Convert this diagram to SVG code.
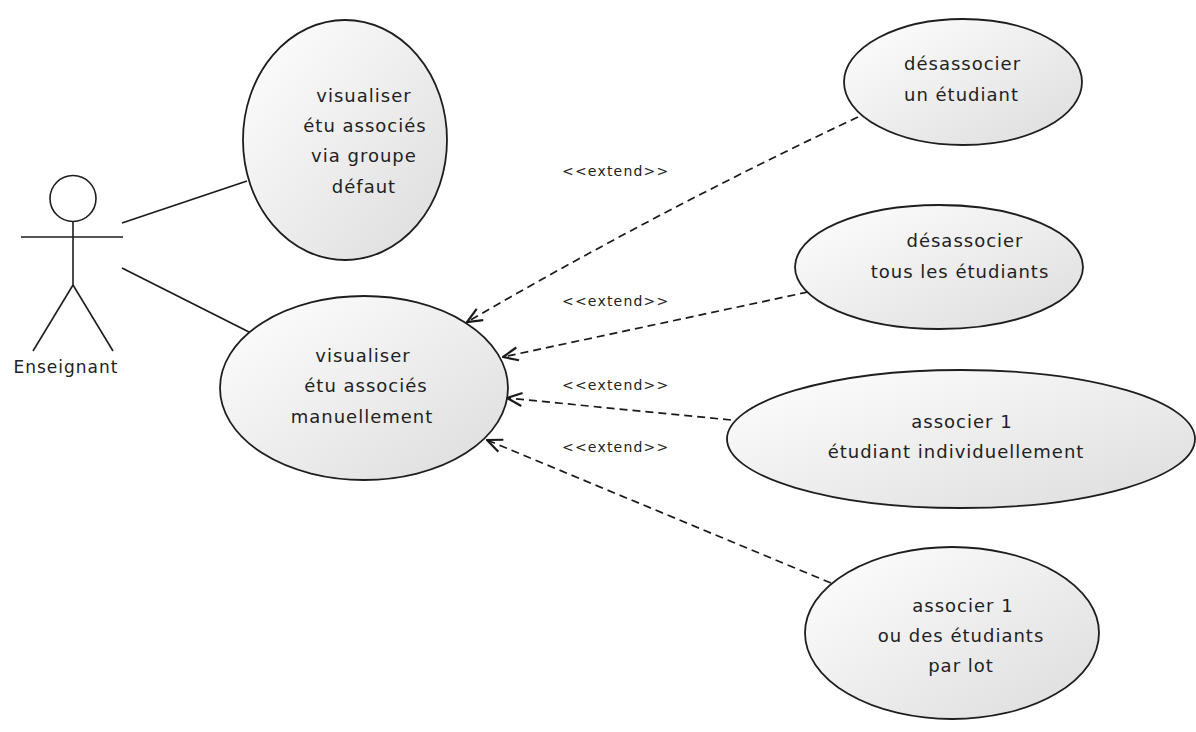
<svg xmlns="http://www.w3.org/2000/svg" width="1196" height="732" viewBox="0 0 1196 732">
  <defs>
    <linearGradient id="ucFill" x1="0" y1="0" x2="1" y2="1">
      <stop offset="0" stop-color="#ffffff"/>
      <stop offset="1" stop-color="#dcdcdc"/>
    </linearGradient>
    <marker id="openArrow" markerUnits="userSpaceOnUse" viewBox="0 0 17 16" markerWidth="17" markerHeight="16" refX="16" refY="8" orient="auto">
      <path d="M1,1.5 L16,8 L1,14.5" fill="none" stroke="#1a1a1a" stroke-width="2.2" stroke-linejoin="miter"/>
    </marker>
    <style>
      .uc { fill: url(#ucFill); stroke: #1e1e1e; stroke-width: 1.8; }
      .lbl { font-family: "DejaVu Sans", Verdana, sans-serif; font-size: 18px; letter-spacing: 1px; fill: #222; text-anchor: middle; }
      .lbl-left { text-anchor: start; }
      .actor { fill: none; stroke: #1e1e1e; stroke-width: 1.6; }
      .assoc { stroke: #1a1a1a; stroke-width: 1.7; fill: none; }
      .ext { stroke: #1a1a1a; stroke-width: 1.7; fill: none; stroke-dasharray: 8 5; marker-end: url(#openArrow); }
      .stereo { font-family: "DejaVu Sans", Verdana, sans-serif; font-size: 14px; letter-spacing: 1.2px; fill: #222; }
    </style>
  </defs>

  <!-- actor -->
  <g id="actor-enseignant">
    <circle class="actor" cx="73" cy="198.5" r="23"/>
    <line class="actor" x1="73" y1="221.5" x2="73" y2="285"/>
    <line class="actor" x1="21" y1="237" x2="123" y2="237"/>
    <line class="actor" x1="73" y1="285" x2="33" y2="351"/>
    <line class="actor" x1="73" y1="285" x2="113" y2="351"/>
    <text class="lbl" x="66" y="373" style="font-size:17px">Enseignant</text>
  </g>

  <!-- use cases -->
  <g id="uc-groupe-defaut">
    <ellipse class="uc" cx="345" cy="140" rx="102" ry="120"/>
    <text class="lbl" x="364" y="102">visualiser</text>
    <text class="lbl" x="365" y="132">étu associés</text>
    <text class="lbl" x="364" y="162">via groupe</text>
    <text class="lbl" x="364" y="193">défaut</text>
  </g>

  <g id="uc-manuellement">
    <ellipse class="uc" cx="364" cy="388" rx="144" ry="92"/>
    <text class="lbl" x="363" y="362">visualiser</text>
    <text class="lbl" x="366" y="392">étu associés</text>
    <text class="lbl" x="362" y="423">manuellement</text>
  </g>

  <g id="uc-desassocier-un">
    <ellipse class="uc" cx="963" cy="82" rx="119" ry="63"/>
    <text class="lbl lbl-left" x="904" y="70">désassocier</text>
    <text class="lbl lbl-left" x="904" y="101">un étudiant</text>
  </g>

  <g id="uc-desassocier-tous">
    <ellipse class="uc" cx="939" cy="267" rx="144" ry="62"/>
    <text class="lbl" x="965" y="247">désassocier</text>
    <text class="lbl" x="960" y="278">tous les étudiants</text>
  </g>

  <g id="uc-associer-individuel">
    <ellipse class="uc" cx="961" cy="439" rx="234" ry="69"/>
    <text class="lbl" x="962" y="428">associer 1</text>
    <text class="lbl" x="956" y="458">étudiant individuellement</text>
  </g>

  <g id="uc-associer-lot">
    <ellipse class="uc" cx="952" cy="633" rx="147" ry="86"/>
    <text class="lbl" x="963" y="612">associer 1</text>
    <text class="lbl" x="961" y="642">ou des étudiants</text>
    <text class="lbl" x="961" y="672">par lot</text>
  </g>

  <!-- connectors -->
  <g id="connectors">
    <line class="assoc" x1="122" y1="223" x2="247" y2="181"/>
    <line class="assoc" x1="122" y1="268" x2="249" y2="332"/>

    <path class="ext" d="M858,117 Q658,211 467,322"/>
    <path class="ext" d="M808,292 L503,357"/>
    <path class="ext" d="M731,420 L507,398"/>
    <path class="ext" d="M831,583 L487,440"/>

    <text class="stereo" x="562" y="176">&lt;&lt;extend&gt;&gt;</text>
    <text class="stereo" x="562" y="306">&lt;&lt;extend&gt;&gt;</text>
    <text class="stereo" x="562" y="390">&lt;&lt;extend&gt;&gt;</text>
    <text class="stereo" x="562" y="452">&lt;&lt;extend&gt;&gt;</text>
  </g>
</svg>
